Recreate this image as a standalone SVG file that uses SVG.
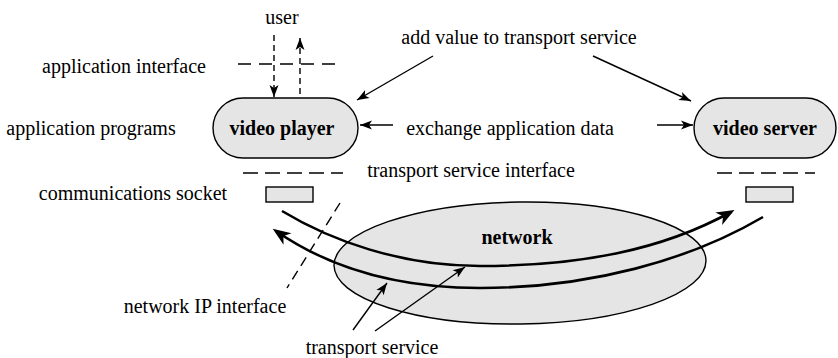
<svg xmlns="http://www.w3.org/2000/svg" width="838" height="358" viewBox="0 0 838 358">
  <style>
    text { font-family: "Liberation Serif", "Times New Roman", "DejaVu Serif", serif; font-size: 20px; fill: #000; text-anchor: middle; }
    .bold { font-weight: bold; }
    .box { fill: #e5e5e5; stroke: #000; stroke-width: 1.4; }
    .thin { fill: none; stroke: #000; stroke-width: 1.4; }
    .thick { fill: none; stroke: #000; stroke-width: 2.6; }
    .iface { fill: none; stroke: #000; stroke-width: 1.4; stroke-dasharray: 13 8; }
    .user { fill: none; stroke: #000; stroke-width: 1.4; stroke-dasharray: 6 4; }
  </style>
  <defs>
    <marker id="arr" viewBox="-13 -5 14 10" refX="0" refY="0" markerWidth="14" markerHeight="10" markerUnits="userSpaceOnUse" orient="auto">
      <path d="M0,0 L-12,-4.5 L-9,0 L-12,4.5 Z" fill="#000"/>
    </marker>
    <marker id="arrBig" viewBox="-19 -8 20 16" refX="-4" refY="0" markerWidth="20" markerHeight="16" markerUnits="userSpaceOnUse" orient="auto">
      <path d="M0,0 L-18,-7 L-13,0 L-18,7 Z" fill="#000"/>
    </marker>
  </defs>

  <!-- network cloud -->
  <g id="network">
    <ellipse class="box" cx="520" cy="263" rx="186" ry="61" transform="rotate(-0.8 520 263)"/>
    <text class="bold" x="517" y="244" font-family="Liberation Serif, serif">network</text>
  </g>

  <!-- application endpoints -->
  <g id="video-player">
    <rect class="box" x="213" y="98" width="145" height="60" rx="30" ry="30"/>
    <text class="bold" x="282" y="135" font-family="Liberation Serif, serif">video player</text>
  </g>
  <g id="video-server">
    <rect class="box" x="694" y="98" width="142" height="60" rx="30" ry="30"/>
    <text class="bold" x="765" y="135" font-family="Liberation Serif, serif">video server</text>
  </g>

  <!-- sockets -->
  <g id="socket-left">
    <rect class="box" x="266" y="187" width="47" height="15"/>
  </g>
  <g id="socket-right">
    <rect class="box" x="746" y="187" width="47" height="15"/>
  </g>

  <!-- interface boundaries -->
  <g id="interfaces">
    <line class="iface" x1="238" y1="64" x2="338" y2="64"/>
    <line class="iface" x1="243" y1="173" x2="343" y2="173" style="stroke-dasharray:15 7"/>
    <line class="iface" x1="717" y1="173" x2="815" y2="173" style="stroke-dasharray:15 7"/>
    <line class="iface" x1="340" y1="203" x2="287" y2="288" style="stroke-dasharray:10 6"/>
  </g>

  <!-- connectors -->
  <g id="connectors">
    <line class="user" x1="274" y1="35" x2="274" y2="97" marker-end="url(#arr)"/>
    <line class="user" x1="300" y1="94" x2="300" y2="38" marker-end="url(#arr)"/>
    <line class="thin" x1="433" y1="56" x2="357" y2="100" marker-end="url(#arr)"/>
    <line class="thin" x1="593" y1="56" x2="691" y2="101" marker-end="url(#arr)"/>
    <line class="thin" x1="393" y1="125" x2="360" y2="125" marker-end="url(#arr)"/>
    <line class="thin" x1="657" y1="125" x2="693" y2="125" marker-end="url(#arr)"/>
    <path class="thick" d="M282,211 C330,240 400,266 480,266 C580,266 662,250 731,212" marker-end="url(#arrBig)"/>
    <path class="thick" d="M763,217 C690,260 590,288 480,288 C380,288 315,258 276,231" marker-end="url(#arrBig)"/>
    <line class="thin" x1="353" y1="330" x2="387" y2="283" marker-end="url(#arr)"/>
    <line class="thin" x1="375" y1="331" x2="465" y2="267" marker-end="url(#arr)"/>
  </g>

  <!-- labels -->
  <g id="labels" font-family="Liberation Serif, serif">
    <text x="282" y="24">user</text>
    <text x="124" y="73">application interface</text>
    <text x="519" y="44">add value to transport service</text>
    <text x="91" y="135">application programs</text>
    <text x="510" y="135">exchange application data</text>
    <text x="471" y="177">transport service interface</text>
    <text x="133" y="200">communications socket</text>
    <text x="205" y="313">network IP interface</text>
    <text x="372" y="354">transport service</text>
  </g>
</svg>
